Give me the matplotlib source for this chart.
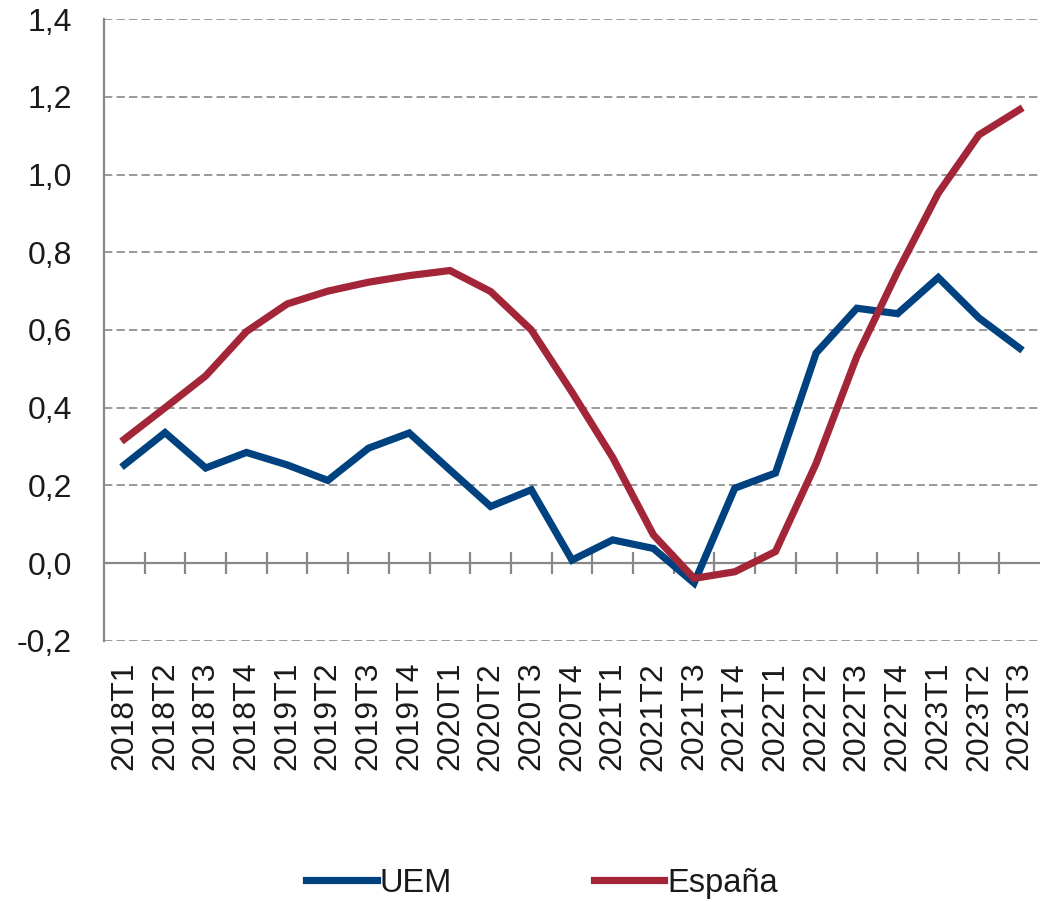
import numpy as np
import matplotlib
matplotlib.use("Agg")
import matplotlib.pyplot as plt
from matplotlib.ticker import FuncFormatter

plt.rcParams['font.family'] = ['Liberation Sans', 'DejaVu Sans']

# Trimestres
trimestres = ["2018T1", "2018T2", "2018T3", "2018T4",
              "2019T1", "2019T2", "2019T3", "2019T4",
              "2020T1", "2020T2", "2020T3", "2020T4",
              "2021T1", "2021T2", "2021T3", "2021T4",
              "2022T1", "2022T2", "2022T3", "2022T4",
              "2023T1", "2023T2", "2023T3"]

# Series
uem = [0.253, 0.336, 0.245, 0.285, 0.253, 0.213, 0.296, 0.335,
       0.240, 0.146, 0.189, 0.008, 0.060, 0.038, -0.051, 0.193,
       0.232, 0.541, 0.656, 0.642, 0.735, 0.631, 0.553]
espana = [0.319, 0.400, 0.482, 0.596, 0.667, 0.700, 0.723, 0.740,
          0.753, 0.699, 0.600, 0.440, 0.272, 0.073, -0.039, -0.022,
          0.030, 0.257, 0.532, 0.750, 0.952, 1.102, 1.167]

azul = "#00427f"
rojo = "#a32638"
gris = "#888888"

fig = plt.figure(figsize=(10.4, 9.02), dpi=100)
ax = fig.add_axes([0.1, 0.2894, 0.9, 0.6895])

x = np.arange(len(trimestres))

# Rejilla discontinua
for v in np.arange(-0.2, 1.41, 0.2):
    if abs(v) > 1e-9:
        ax.axhline(v, color=gris, lw=1.2, ls=(0, (5, 2.5)), zorder=1)

# Eje en el cero con marcas entre trimestres
ax.axhline(0, color=gris, lw=1.6, zorder=2)
ax.vlines(x[:-1] + 0.5, -0.028, 0.028, color=gris, lw=1.6, zorder=2)

ax.plot(x, uem, color=azul, lw=5.2, solid_joinstyle='miter', label="UEM", zorder=3)
ax.plot(x, espana, color=rojo, lw=5.2, solid_joinstyle='miter', label="España", zorder=3)

ax.set_xlim(-0.5, len(trimestres) - 0.5)
ax.set_ylim(-0.2, 1.4)
ax.set_yticks(np.arange(-0.2, 1.41, 0.2))
ax.yaxis.set_major_formatter(FuncFormatter(lambda v, p: f"{v:.1f}".replace(".", ",").replace("-0,0", "0,0")))
ax.tick_params(axis='y', length=0, pad=23, labelsize=23, labelcolor="#1a1a1a")

ax.set_xticks(x)
ax.set_xticklabels(trimestres, rotation=90, fontsize=23, color="#1a1a1a")
ax.tick_params(axis='x', length=0, pad=15)

for s in ['top', 'right', 'bottom']:
    ax.spines[s].set_visible(False)
ax.spines['left'].set_color(gris)
ax.spines['left'].set_linewidth(1.6)

fig.legend(loc='center', bbox_to_anchor=(0.521, 0.021), ncol=2, frameon=False,
           fontsize=23.5, handlelength=2.17, handletextpad=0.08, columnspacing=4.35,
           labelcolor="#1a1a1a")

fig.savefig("out.png", dpi=100)
